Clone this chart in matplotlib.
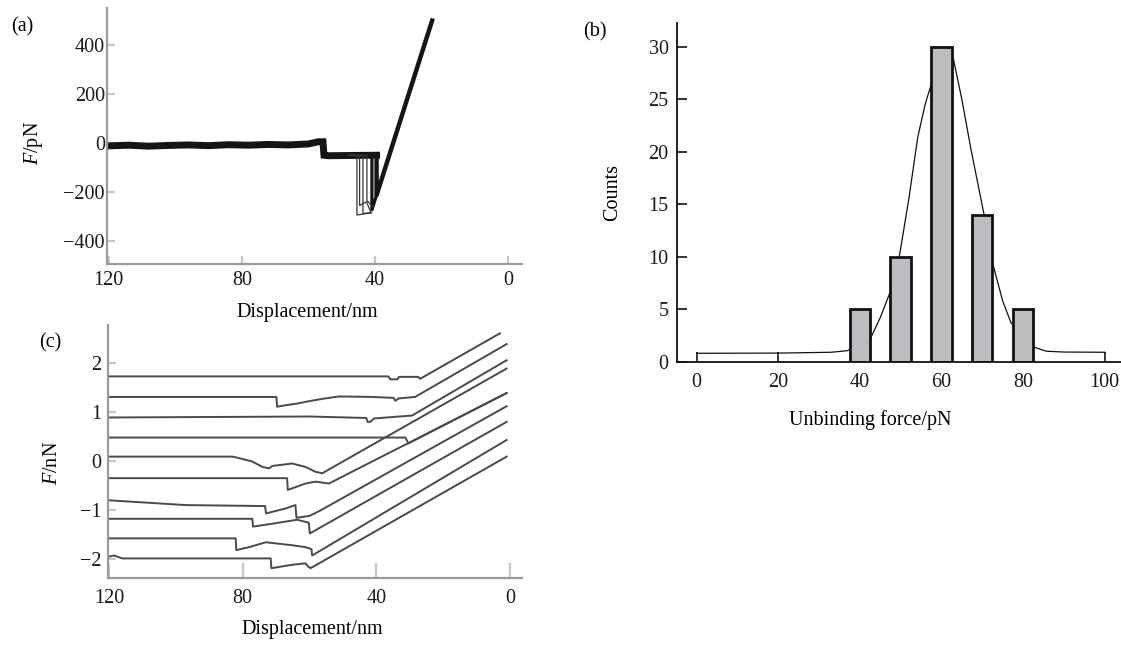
import matplotlib
matplotlib.use("Agg")
import matplotlib.pyplot as plt

plt.rcParams["font.family"] = ["Liberation Serif", "DejaVu Serif"]
plt.rcParams["mathtext.fontset"] = "custom"
plt.rcParams["mathtext.rm"] = "Liberation Serif"
plt.rcParams["mathtext.it"] = "Liberation Serif:italic"
FS = 14.5

# ---- panel (a): single force curve, F/pN vs displacement/nm ----
a_base_x = [120.5, 114, 108, 102, 96, 90, 84, 78, 72, 66, 60, 57.0, 55.6,
            55.3, 54.0, 39.5]
a_base_f = [-12, -9, -13, -10, -8, -11, -7, -9, -6, -8, -4, 5, 5,
            -50, -52, -50]
a_slope_x = [39.5, 39.5, 22.8]
a_slope_f = [-50, -213, 500]
a_valley_x = [40.9, 40.9, 39.5]
a_valley_f = [-50, -273, -213]
a_thin = [
    ([48.0, 45.4, 45.4, 41.2], [-50, -50, -294, -285]),
    ([48.0, 44.6, 44.6, 42.5, 41.2], [-50, -50, -255, -240, -285]),
    ([48.0, 43.6, 43.6, 41.2], [-50, -50, -288, -285]),
    ([48.0, 42.4, 42.4, 40.6], [-50, -50, -235, -260]),
]
a_yticks = [-400, -200, 0, 200, 400]
a_xticks = [120, 80, 40, 0]

# ---- panel (b): histogram of unbinding forces ----
b_force = [40, 50, 60, 70, 80]
b_counts = [5, 10, 30, 14, 5]
b_fit_x = [0, 20, 33, 37, 38, 40, 42.6, 45, 47.6, 49.8, 52, 54.2, 56, 57.7,
           60, 62.9, 65, 67.3, 70.4, 72.6, 75, 77, 80, 82.6, 85.7, 90, 100]
b_fit_y = [0.8, 0.82, 0.9, 1.05, 1.3, 1.8, 2.2, 4.2, 6.8, 10.3, 15.5, 21.4,
           24.5, 26.7, 29.5, 28.9, 25.0, 20.1, 14.1, 9.3, 5.8, 3.75, 2.2,
           1.4, 1.0, 0.92, 0.9]
b_xticks = [0, 20, 40, 60, 80, 100]
b_yticks = [0, 5, 10, 15, 20, 25, 30]

# ---- panel (c): ten force curves, F/nN ----
c1 = [(120.5, 1.73), (36.4, 1.73), (35.8, 1.67), (33.7, 1.67), (33.2, 1.72),
      (27.5, 1.72), (26.9, 1.68), (3.0, 2.61)]
c2 = [(120.5, 1.31), (69.9, 1.31), (69.7, 1.11), (67.2, 1.14), (63.2, 1.18),
      (61.2, 1.21), (56.2, 1.27), (51.2, 1.32), (41.3, 1.31), (34.8, 1.29),
      (34.3, 1.23), (33.3, 1.28), (28.4, 1.31), (1.0, 2.39)]
c3 = [(120.5, 0.89), (90, 0.90), (60, 0.91), (43.0, 0.88), (42.6, 0.80),
      (41.8, 0.80), (40.7, 0.87), (29.3, 0.93), (1.0, 2.06)]
c4 = [(120.5, 0.48), (31.3, 0.48), (30.4, 0.36), (1.0, 1.39)]
c5 = [(120.5, 0.09), (83.0, 0.09), (81.1, 0.06), (77.1, -0.01), (74.1, -0.12),
      (72.1, -0.15), (71.1, -0.10), (65.2, -0.05), (61.2, -0.12),
      (58.2, -0.22), (56.2, -0.25), (1.0, 1.89)]
c6 = [(120.5, -0.35), (66.7, -0.35), (66.5, -0.59), (61.2, -0.46),
      (58.2, -0.42), (54.2, -0.46), (1.0, 1.39)]
c7 = [(120.5, -0.80), (97.0, -0.90), (73.3, -0.92), (73.0, -1.07),
      (67.2, -0.97), (64.2, -0.90), (63.9, -1.16), (60.0, -1.12),
      (57.0, -1.02), (1.0, 1.12)]
c8 = [(120.5, -1.18), (77.1, -1.18), (76.9, -1.34), (71.1, -1.28),
      (63.7, -1.20), (60.2, -1.26), (59.9, -1.48), (1.0, 0.80)]
c9 = [(120.5, -1.58), (82.1, -1.58), (81.9, -1.82), (78.1, -1.76),
      (73.1, -1.66), (65.2, -1.72), (61.2, -1.76), (59.4, -1.80),
      (59.2, -1.93), (1.0, 0.43)]
c10 = [(120.5, -1.96), (118.5, -1.93), (116.0, -1.99), (71.6, -1.99),
       (71.4, -2.19), (65.2, -2.12), (61.2, -2.09), (60.5, -2.15),
       (59.7, -2.19), (1.0, 0.09)]
c_curves = [c1, c2, c3, c4, c5, c6, c7, c8, c9, c10]
c_yticks = [-2, -1, 0, 1, 2]
c_xticks = [120, 80, 40, 0]

W, H = 1121, 651
fig = plt.figure(figsize=(W / 100, H / 100), dpi=100)


def rect(left, top, right, bottom):
    """Axes rectangle from pixel edges."""
    return [left / W, 1 - bottom / H, (right - left) / W, (bottom - top) / H]


def afm_style(ax, ypad, xpad):
    for s in ["top", "right"]:
        ax.spines[s].set_visible(False)
    for s in ["left", "bottom"]:
        ax.spines[s].set_color("#9a9a9a")
        ax.spines[s].set_linewidth(1.6)
    ax.tick_params(direction="in", length=6, width=1.6, color="#c8c8c8",
                   labelsize=FS, labelcolor="#1a1a1a")
    ax.tick_params(axis="y", pad=ypad)
    ax.tick_params(axis="x", pad=xpad)


# (a)
ax_a = fig.add_axes(rect(107, 8, 522, 264))
ax_a.plot(a_base_x, a_base_f, color="#151515", lw=5.0, solid_joinstyle="miter")
ax_a.plot(a_slope_x, a_slope_f, color="#151515", lw=3.2)
ax_a.plot(a_valley_x, a_valley_f, color="#151515", lw=2.3)
for xs, fs in a_thin:
    ax_a.plot(xs, fs, color="#333333", lw=0.9)
ax_a.set_xlim(120.5, -4.2)
ax_a.set_ylim(-494, 551)
ax_a.set_xticks(a_xticks)
ax_a.set_yticks(a_yticks)
afm_style(ax_a, ypad=1.5, xpad=5)
ax_a.set_xlabel("Displacement/nm", fontsize=FS, va="center")
ax_a.xaxis.set_label_coords(0.482, -0.1875)
ax_a.set_ylabel(r"$F$/pN", fontsize=FS, va="center")
ax_a.yaxis.set_label_coords(-0.178, 0.473)

# (c)
ax_c = fig.add_axes(rect(108, 325, 522, 578))
for cur in c_curves:
    xs = [p[0] for p in cur]
    fs = [p[1] for p in cur]
    ax_c.plot(xs, fs, color="#4a4a4a", lw=1.4)
ax_c.set_xlim(120.3, -3.6)
ax_c.set_ylim(-2.39, 2.78)
ax_c.set_xticks(c_xticks)
ax_c.set_yticks(c_yticks)
afm_style(ax_c, ypad=5, xpad=8)
ax_c.tick_params(axis="x", length=11)
ax_c.set_xlabel("Displacement/nm", fontsize=FS, va="center")
ax_c.xaxis.set_label_coords(0.493, -0.2055)
ax_c.set_ylabel(r"$F$/nN", fontsize=FS, va="center")
ax_c.yaxis.set_label_coords(-0.133, 0.455)

# (b)
ax_b = fig.add_axes(rect(677, 22.7, 1121, 361.7))
ax_b.plot(b_fit_x, b_fit_y, color="#111111", lw=0.9, zorder=1)
ax_b.bar(b_force, b_counts, width=5, color="#bcbdc0", edgecolor="#111111",
         linewidth=2.0, zorder=2)
ax_b.set_xlim(-4.8, 104)
ax_b.set_ylim(0, 32.3)
ax_b.set_xticks(b_xticks)
ax_b.set_yticks(b_yticks)
for s in ["top", "right"]:
    ax_b.spines[s].set_visible(False)
for s in ["left", "bottom"]:
    ax_b.spines[s].set_linewidth(1.3)
    ax_b.spines[s].set_color("#111111")
ax_b.tick_params(direction="in", length=7, width=1.1, labelsize=FS,
                 labelcolor="#1a1a1a", zorder=3)
ax_b.tick_params(axis="y", pad=6)
ax_b.tick_params(axis="x", pad=8)
ax_b.set_xlabel("Unbinding force/pN", fontsize=FS, va="center")
ax_b.xaxis.set_label_coords(0.435, -0.172)
ax_b.set_ylabel("Counts", fontsize=FS, va="center")
ax_b.yaxis.set_label_coords(-0.144, 0.50)

# panel letters
fig.text(22 / W, 1 - 27 / H, "(a)", fontsize=FS, ha="center", va="center")
fig.text(595 / W, 1 - 32 / H, "(b)", fontsize=FS, ha="center", va="center")
fig.text(50 / W, 1 - 343 / H, "(c)", fontsize=FS, ha="center", va="center")

fig.savefig("out.png", dpi=100)
